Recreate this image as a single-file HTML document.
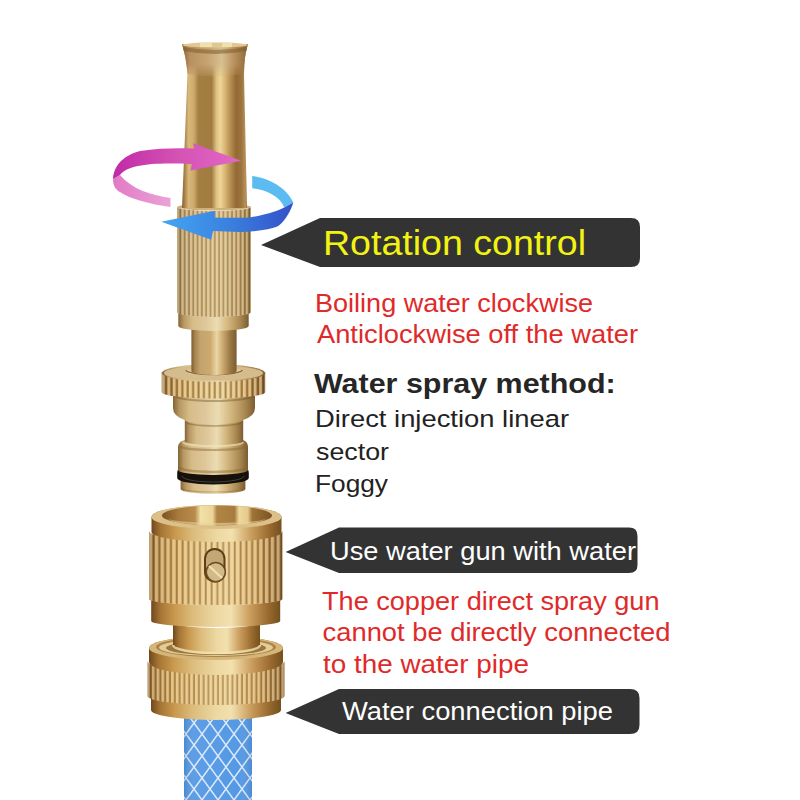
<!DOCTYPE html>
<html><head><meta charset="utf-8">
<style>
html,body{margin:0;padding:0;background:#fff;width:800px;height:800px;overflow:hidden}
svg{display:block}
text{font-family:"Liberation Sans",sans-serif}
</style></head>
<body>
<svg width="800" height="800" viewBox="0 0 800 800">
<defs>
  <linearGradient id="gNoz" x1="0" x2="1" y1="0" y2="0">
    <stop offset="0" stop-color="#86602e"/>
    <stop offset="0.04" stop-color="#a8804c"/>
    <stop offset="0.1" stop-color="#d8b878"/>
    <stop offset="0.18" stop-color="#ccaa6c"/>
    <stop offset="0.25" stop-color="#a47e42"/>
    <stop offset="0.45" stop-color="#a07c40"/>
    <stop offset="0.52" stop-color="#dcc080"/>
    <stop offset="0.58" stop-color="#eed698"/>
    <stop offset="0.66" stop-color="#d6b272"/>
    <stop offset="0.72" stop-color="#bc9456"/>
    <stop offset="0.82" stop-color="#946a34"/>
    <stop offset="0.9" stop-color="#9c743e"/>
    <stop offset="0.96" stop-color="#b89058"/>
    <stop offset="1" stop-color="#86643a"/>
  </linearGradient>
  <linearGradient id="gS" x1="0" x2="1" y1="0" y2="0">
    <stop offset="0" stop-color="#70481c"/>
    <stop offset="0.07" stop-color="#a47434"/>
    <stop offset="0.18" stop-color="#c8984e"/>
    <stop offset="0.32" stop-color="#dcbc7c"/>
    <stop offset="0.5" stop-color="#ecd8a2"/>
    <stop offset="0.62" stop-color="#f2e0ae"/>
    <stop offset="0.76" stop-color="#cca060"/>
    <stop offset="0.9" stop-color="#9c6c30"/>
    <stop offset="1" stop-color="#74501e"/>
  </linearGradient>
  <linearGradient id="gK" x1="0" x2="1" y1="0" y2="0">
    <stop offset="0" stop-color="#7a5224"/>
    <stop offset="0.06" stop-color="#a87a3a"/>
    <stop offset="0.2" stop-color="#cca058"/>
    <stop offset="0.45" stop-color="#dcba78"/>
    <stop offset="0.6" stop-color="#e0c080"/>
    <stop offset="0.8" stop-color="#c89a54"/>
    <stop offset="0.93" stop-color="#9c6e34"/>
    <stop offset="1" stop-color="#7a5224"/>
  </linearGradient>
  <linearGradient id="gP" x1="0" x2="1" y1="0" y2="0">
    <stop offset="0" stop-color="#846434"/>
    <stop offset="0.08" stop-color="#b89864"/>
    <stop offset="0.2" stop-color="#d6bc88"/>
    <stop offset="0.4" stop-color="#dfc89c"/>
    <stop offset="0.55" stop-color="#ecdcb2"/>
    <stop offset="0.7" stop-color="#d4b880"/>
    <stop offset="0.88" stop-color="#a88850"/>
    <stop offset="1" stop-color="#7c5c30"/>
  </linearGradient>
  <linearGradient id="gStem" x1="0" x2="1" y1="0" y2="0">
    <stop offset="0" stop-color="#7c5c30"/>
    <stop offset="0.08" stop-color="#a88450"/>
    <stop offset="0.2" stop-color="#c4a46c"/>
    <stop offset="0.42" stop-color="#ccaa70"/>
    <stop offset="0.56" stop-color="#ead6a4"/>
    <stop offset="0.68" stop-color="#cfae74"/>
    <stop offset="0.85" stop-color="#9c7a46"/>
    <stop offset="1" stop-color="#7c5c30"/>
  </linearGradient>
  <linearGradient id="gK2" x1="0" x2="1" y1="0" y2="0">
    <stop offset="0" stop-color="#8a6c3c"/>
    <stop offset="0.1" stop-color="#b89868"/>
    <stop offset="0.3" stop-color="#c8aa74"/>
    <stop offset="0.55" stop-color="#d4b882"/>
    <stop offset="0.8" stop-color="#c0a06a"/>
    <stop offset="0.93" stop-color="#a4844c"/>
    <stop offset="1" stop-color="#806034"/>
  </linearGradient>
  <linearGradient id="gIn" x1="0" x2="1" y1="0" y2="0">
    <stop offset="0" stop-color="#7a5224"/>
    <stop offset="0.15" stop-color="#a87a3c"/>
    <stop offset="0.3" stop-color="#b88c4c"/>
    <stop offset="0.35" stop-color="#f2e0a6"/>
    <stop offset="0.46" stop-color="#ecd49a"/>
    <stop offset="0.5" stop-color="#b08444"/>
    <stop offset="0.66" stop-color="#a87c3e"/>
    <stop offset="0.7" stop-color="#eed89e"/>
    <stop offset="0.78" stop-color="#e4ca8c"/>
    <stop offset="0.82" stop-color="#a07436"/>
    <stop offset="1" stop-color="#7a5224"/>
  </linearGradient>
  <linearGradient id="gTop" x1="0" x2="1" y1="0" y2="0">
    <stop offset="0" stop-color="#8a6434"/>
    <stop offset="0.12" stop-color="#b89060"/>
    <stop offset="0.4" stop-color="#c8a474"/>
    <stop offset="0.6" stop-color="#d8c090"/>
    <stop offset="0.8" stop-color="#b88e5c"/>
    <stop offset="1" stop-color="#8c6838"/>
  </linearGradient>
  <linearGradient id="gFadeY" x1="0" x2="0" y1="0" y2="1">
    <stop offset="0" stop-color="#fff"/>
    <stop offset="0.6" stop-color="#fff"/>
    <stop offset="1" stop-color="#000"/>
  </linearGradient>
  <mask id="mTop" maskUnits="userSpaceOnUse" x="170" y="40" width="90" height="45">
    <rect x="170" y="40" width="90" height="40" fill="url(#gFadeY)"/>
  </mask>
  <pattern id="k38" width="4.3" height="10" patternUnits="userSpaceOnUse" x="177">
    <rect x="0" y="0" width="2.2" height="10" fill="#f4e6bc" opacity="0.5"/>
    <rect x="2.9" y="0" width="1.1" height="10" fill="#5a3c14" opacity="0.38"/>
  </pattern>
  <pattern id="k44" width="5.8" height="10" patternUnits="userSpaceOnUse" x="149">
    <rect x="0" y="0" width="3.2" height="10" fill="#fff0c4" opacity="0.5"/>
    <rect x="4" y="0" width="1.3" height="10" fill="#5a3812" opacity="0.4"/>
  </pattern>
  <pattern id="k48" width="4.8" height="10" patternUnits="userSpaceOnUse" x="147">
    <rect x="0" y="0" width="2.6" height="10" fill="#fff0c4" opacity="0.5"/>
    <rect x="3.3" y="0" width="1.2" height="10" fill="#5a3812" opacity="0.42"/>
  </pattern>
  <pattern id="k50" width="5.4" height="10" patternUnits="userSpaceOnUse">
    <rect x="0" y="0" width="2.6" height="10" fill="#f8ecc4" opacity="0.55"/>
    <rect x="3.4" y="0" width="1.6" height="10" fill="#5a3c14" opacity="0.45"/>
  </pattern>
  <linearGradient id="pinkTop" x1="0" x2="1" y1="0" y2="0">
    <stop offset="0" stop-color="#c02aa8"/>
    <stop offset="0.5" stop-color="#d452b4"/>
    <stop offset="1" stop-color="#e268c6"/>
  </linearGradient>
  <linearGradient id="pinkLow" x1="0" x2="1" y1="0" y2="0">
    <stop offset="0" stop-color="#e27ac6"/>
    <stop offset="1" stop-color="#eba2d6"/>
  </linearGradient>
  <linearGradient id="blueBot" x1="0" x2="1" y1="0" y2="0">
    <stop offset="0" stop-color="#44a6f2"/>
    <stop offset="0.5" stop-color="#3a82e0"/>
    <stop offset="1" stop-color="#3450c8"/>
  </linearGradient>
  <pattern id="mesh" width="16" height="22" patternUnits="userSpaceOnUse" x="186" y="712">
    <rect width="16" height="22" fill="#5599e4"/>
    <path d="M-8,-11 L24,33 M24,-11 L-8,33" stroke="#eaf3fd" stroke-width="1.5" opacity="0.9"/>
    <path d="M-8,11 L8,33 M8,-11 L24,11 M8,-11 L-8,11 M24,11 L8,33" stroke="#d4e6fa" stroke-width="1.1" opacity="0.7"/>
  </pattern>
  <linearGradient id="hoseShade" x1="0" x2="1">
    <stop offset="0" stop-color="#1a3c70" stop-opacity="0.18"/>
    <stop offset="0.15" stop-color="#fff" stop-opacity="0.05"/>
    <stop offset="0.8" stop-color="#fff" stop-opacity="0"/>
    <stop offset="1" stop-color="#1a3c70" stop-opacity="0.15"/>
  </linearGradient>
</defs>
<rect width="800" height="800" fill="#fff"/>
<rect x="184" y="705" width="68" height="95" fill="url(#mesh)"/>
<rect x="184" y="705" width="68" height="95" fill="url(#hoseShade)"/>
<path d="M151,695 A65,9 0 0 0 281,695 L281,710 A65,10 0 0 1 151,710 Z" fill="url(#gS)"/>
<path d="M147.6,661 A68.4,13 0 0 0 284.4,661 L284.4,696 A68.4,9 0 0 1 147.6,696 Z" fill="url(#gK)"/>
<path d="M147.6,661 A68.4,13 0 0 0 284.4,661 L284.4,696 A68.4,9 0 0 1 147.6,696 Z" fill="url(#k48)"/>
<path d="M149,648 A67,12 0 0 1 283,648 L283,662 A67,13 0 0 1 149,662 Z" fill="url(#gS)"/>
<ellipse cx="216" cy="648" rx="67" ry="12" fill="#d6b678"/>
<ellipse cx="216" cy="647" rx="60" ry="10" fill="#a88448"/>
<ellipse cx="216" cy="647.5" rx="57" ry="8.5" fill="#e4cc94"/>
<ellipse cx="216" cy="648" rx="50" ry="7" fill="#9a7640"/>
<path d="M173,622 A43.5,6 0 0 0 260,622 L260,646 A43.5,8 0 0 1 173,646 Z" fill="url(#gS)"/>
<path d="M173,645 A43.5,8 0 0 0 260,645" fill="none" stroke="#f4e4b0" stroke-width="2.5" opacity="0.8"/>
<path d="M151.2,599 A64.5,6 0 0 0 280.2,599 L280.2,621 A64.5,6 0 0 1 151.2,621 Z" fill="url(#gS)"/>
<path d="M149,531 A66.7,10 0 0 0 282.4,531 L282.4,599 A66.7,6 0 0 1 149,599 Z" fill="url(#gK)"/>
<path d="M149,531 A66.7,10 0 0 0 282.4,531 L282.4,599 A66.7,6 0 0 1 149,599 Z" fill="url(#k44)"/>
<path d="M151.5,517 A65,12 0 0 1 281.5,517 L281.5,532 A65,10 0 0 1 151.5,532 Z" fill="url(#gS)"/>
<ellipse cx="216.5" cy="517" rx="65" ry="12" fill="#dcc088"/>
<ellipse cx="217" cy="515.5" rx="55" ry="10" fill="url(#gIn)"/>
<path d="M168,518 A49,7 0 0 0 266,518 A49,5 0 0 1 168,518 Z" fill="#e8d29c" opacity="0.6"/>
<rect x="204" y="548" width="21.5" height="34.4" rx="10.7" fill="#5c3e18"/>
<rect x="206" y="550" width="17.5" height="25" rx="8.7" fill="#c4a874"/>
<ellipse cx="215.8" cy="572.1" rx="9.6" ry="9.6" fill="#d2ba88" stroke="#6a4a20" stroke-width="1.6"/>
<path d="M209,566 L222,578" stroke="#f0e0b0" stroke-width="2.2"/>
<path d="M180.6,476 A32.4,4 0 0 0 245.4,476 L245.4,489 A32.4,5 0 0 1 180.6,489 Z" fill="url(#gP)"/>
<path d="M177.2,473 Q177.2,468 182,468 L244,468 Q248.8,468 248.8,473 L248.8,478 A35.8,6.5 0 0 1 177.2,478 Z" fill="#15110a"/>
<path d="M184.8,440 Q178,442 178,447 L178,470 A35,5 0 0 0 248,470 L248,447 Q248,442 243.2,440 Z" fill="url(#gP)"/>
<path d="M182,476 A31,6 0 0 0 244,476" fill="none" stroke="#6a6a6a" stroke-width="1" opacity="0.5"/>
<path d="M180,446 A33,4 0 0 0 246,446" fill="none" stroke="#8a6430" stroke-width="2.2" opacity="0.45"/>
<path d="M183,442 A30,4 0 0 0 243,442" fill="none" stroke="#f4e6bc" stroke-width="2" opacity="0.6"/>
<path d="M182,488 A31,4 0 0 0 244,488" fill="none" stroke="#8a6430" stroke-width="1.2" opacity="0.4"/>
<path d="M184.8,416 A29.2,4 0 0 0 243.2,416 L243.2,441 A29.2,4 0 0 1 184.8,441 Z" fill="url(#gP)"/>
<path d="M173,390 L255,390 L255,408 Q255,416 243.2,420 A29.2,4 0 0 1 184.8,420 Q173,416 173,408 Z" fill="url(#gP)"/>
<path d="M179,467 A34,5 0 0 0 247,467" fill="none" stroke="#8a6430" stroke-width="2.5" opacity="0.45"/>
<path d="M186,422 A28,4 0 0 0 242,422" fill="none" stroke="#7a5a28" stroke-width="1.6" opacity="0.45"/>
<path d="M174,395 A40,6 0 0 0 254,395" fill="none" stroke="#6a4a20" stroke-width="2.2" opacity="0.4"/>
<path d="M161.8,372 A51.7,8.8 0 0 0 265.2,372 L265.2,392 A51.7,6.5 0 0 1 161.8,392 Z" fill="url(#gK)"/>
<path d="M161.8,372 A51.7,8.8 0 0 0 265.2,372 L265.2,392 A51.7,6.5 0 0 1 161.8,392 Z" fill="url(#k50)"/>
<ellipse cx="213.5" cy="373" rx="51.7" ry="8.8" fill="url(#gP)"/>
<ellipse cx="213.5" cy="373" rx="49.5" ry="7.6" fill="#d4bc8c"/>
<ellipse cx="214" cy="371.5" rx="28" ry="4.4" fill="#e2cc9a"/>
<path d="M186,370 A28,4.6 0 0 0 242,370" fill="none" stroke="#6a4a20" stroke-width="1.3" opacity="0.8"/>
<path d="M191.4,326 A22.6,4 0 0 0 236.6,326 L236.6,371 A22.6,4 0 0 1 191.4,371 Z" fill="url(#gStem)"/>
<path d="M178.3,312 A35.2,5 0 0 0 248.7,312 L248.7,326 A35.2,5 0 0 1 178.3,326 Z" fill="url(#gP)"/>
<path d="M177,207 A37,4 0 0 0 251,207 L251,312 A37,5 0 0 1 177,312 Z" fill="url(#gK2)"/>
<path d="M177,207 A37,4 0 0 0 251,207 L251,312 A37,5 0 0 1 177,312 Z" fill="url(#k38)"/>
<ellipse cx="214" cy="207" rx="37" ry="3.5" fill="#cfb07a"/>
<path d="M182,44 L248,44 Q244,56 244,74 L247,208 L182,208 L187.5,74 Q186,56 182,44 Z" fill="url(#gNoz)"/>
<path d="M182,44 L248,44 Q244,56 244,74 Q215,79 187.5,74 Q186,56 182,44 Z" fill="url(#gTop)" mask="url(#mTop)"/>
<path d="M183,47 Q215,53 247,47 L246.5,51 Q215,57 183.5,51 Z" fill="#7e5c2c" opacity="0.55"/>
<ellipse cx="215" cy="45" rx="33" ry="2.6" fill="#e0c890"/>
<path d="M200,43 h12 v4 h-12 Z M222,43 h10 v4 h-10 Z" fill="#f4e6b4" opacity="0.8"/>
<!-- ===== Arrows ===== -->
<!-- pink lower ribbon (behind) -->
<path d="M113,179 C113,186 116,190 120,192 C130,199 150,204 170.5,207 L170.5,198 C150,195 132,189 120,175 Z" fill="url(#pinkLow)"/>
<!-- pink top ribbon + head -->
<path d="M113,179 C114,166 122,156 140,151 C160,148 180,148 194.4,148.6 L193.1,143.3 L241.2,160.8 L190.5,170.4 L191.8,163.9 C170,163 150,163 138,166 C128,168 123,171 120,175 Z" fill="url(#pinkTop)"/>

<!-- blue upper ribbon -->
<path d="M252.2,176.1 C268,177.5 287,188 293.3,202.5 L284.3,207.4 C280,196 265,189.5 252.2,188.3 Z" fill="#5cbcf2"/>
<!-- blue lower ribbon + head -->
<path d="M293.3,202.5 C291,210 286,220 278.2,226.1 C270,230 255,231.5 240,232 L213,231 L211.2,239.8 L161.3,221.7 L214.8,210.8 L214.8,217.5 C230,218 245,218 250.6,217.2 C262,215.5 275,212 284.3,207.4 Z" fill="url(#blueBot)"/>

<!-- ===== Callouts ===== -->
<path d="M261,245 L320,218 L631,218 Q640,218 640,227 L640,258 Q640,267 631,267 L320,267 Z" fill="#333"/>
<text x="323" y="254.5" font-size="35" fill="#f2f214" textLength="263" lengthAdjust="spacingAndGlyphs">Rotation control</text>

<path d="M285.6,552 L339,527.6 L629,527.6 Q637.5,527.6 637.5,536 L637.5,565 Q637.5,573 629,573 L339,573 Z" fill="#333"/>
<text x="330" y="560" font-size="25.5" fill="#fff" textLength="306" lengthAdjust="spacingAndGlyphs">Use water gun with water</text>

<path d="M285.6,713 L339,689 L630,689 Q639.5,689 639.5,698 L639.5,725 Q639.5,734 630,734 L339,734 Z" fill="#333"/>
<text x="342" y="720" font-size="25.5" fill="#fff" textLength="271" lengthAdjust="spacingAndGlyphs">Water connection pipe</text>

<!-- red/black texts -->
<g fill="#e02a2a" font-size="25.5">
<text x="315" y="311.6" textLength="278" lengthAdjust="spacingAndGlyphs">Boiling water clockwise</text>
<text x="317" y="343.2" textLength="321" lengthAdjust="spacingAndGlyphs">Anticlockwise off the water</text>
<text x="322" y="610" textLength="337.5" lengthAdjust="spacingAndGlyphs">The copper direct spray gun</text>
<text x="322.6" y="641.2" textLength="347.8" lengthAdjust="spacingAndGlyphs">cannot be directly connected</text>
<text x="323" y="672.5" textLength="206" lengthAdjust="spacingAndGlyphs">to the water pipe</text>
</g>
<text x="314" y="393.2" font-size="27.5" font-weight="bold" fill="#262626" textLength="301.7" lengthAdjust="spacingAndGlyphs">Water spray method:</text>
<g fill="#222" font-size="24.5">
<text x="315" y="427.3" textLength="254" lengthAdjust="spacingAndGlyphs">Direct injection linear</text>
<text x="316" y="459.6" textLength="73" lengthAdjust="spacingAndGlyphs">sector</text>
<text x="315" y="492" textLength="73" lengthAdjust="spacingAndGlyphs">Foggy</text>
</g>
</svg>
</body></html>
